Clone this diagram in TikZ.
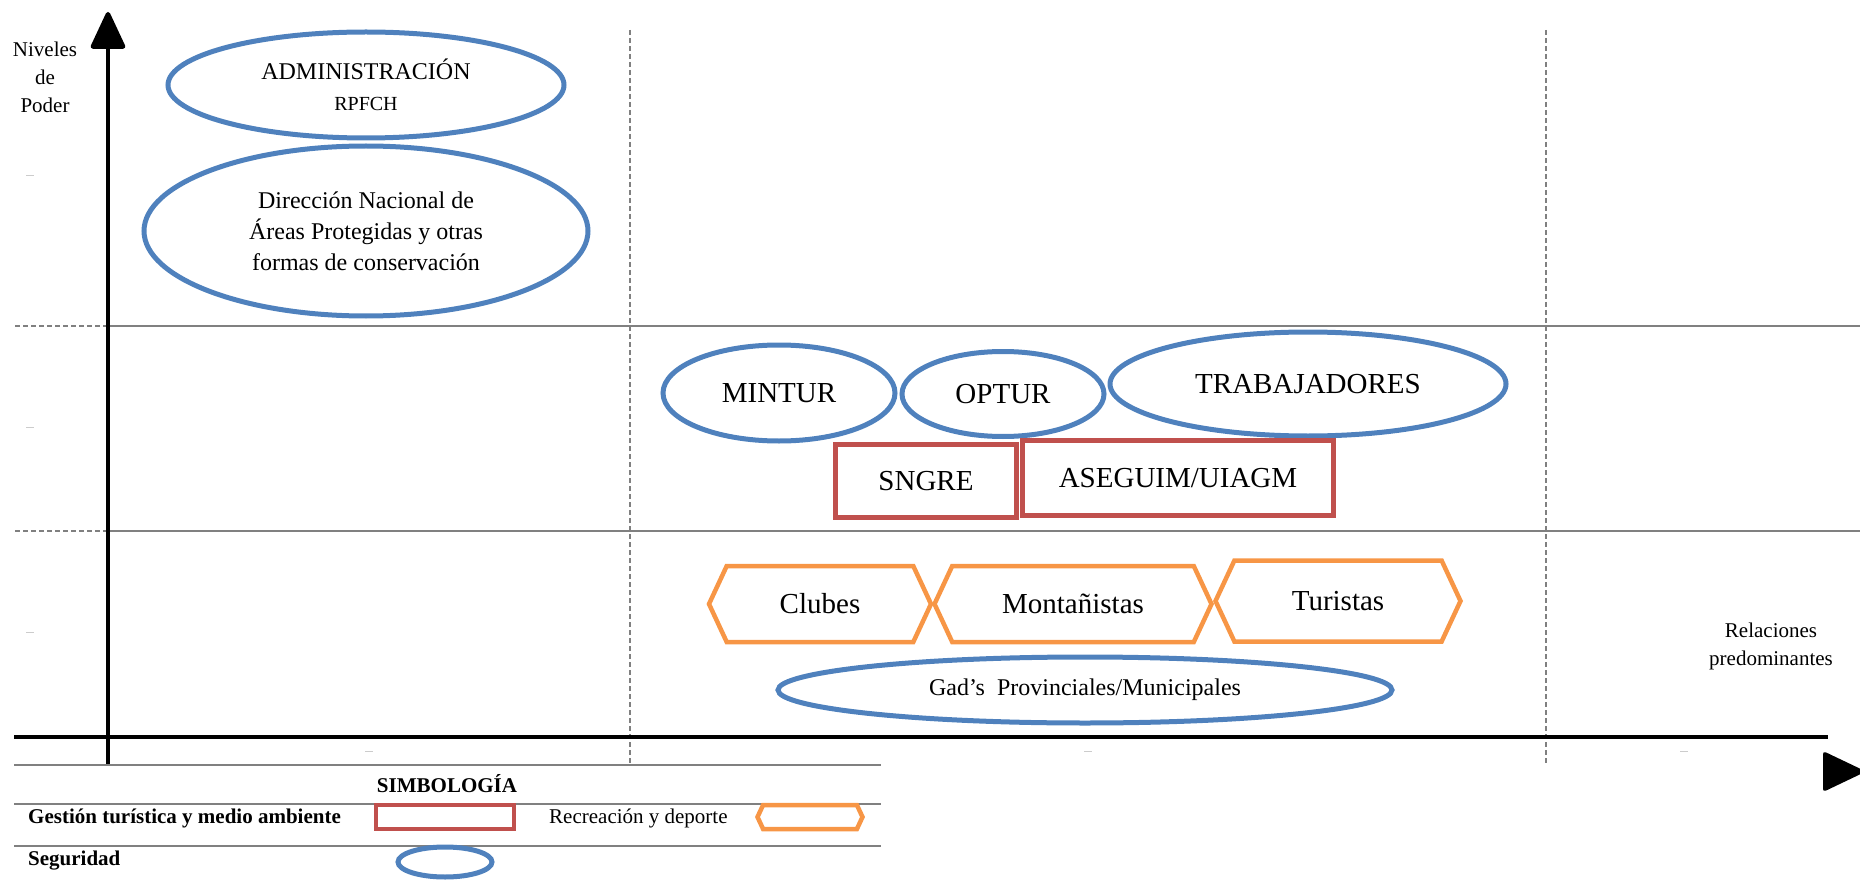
\documentclass[tikz,border=0pt]{standalone}
\usepackage{fontspec}
\setmainfont{Liberation Serif}
\usetikzlibrary{arrows.meta}
\usetikzlibrary{shapes.geometric}
\usetikzlibrary{shapes.symbols}
\definecolor{segblue}{RGB}{79,129,189}
\definecolor{gestred}{RGB}{192,80,77}
\definecolor{recorange}{RGB}{247,150,70}
\definecolor{gridgray}{RGB}{128,128,128}

\tikzset{
  seg/.style={ellipse, draw=segblue, line width=5pt, inner sep=0pt, align=center},
  gest/.style={rectangle, draw=gestred, line width=4.5pt, inner sep=0pt},
  recr/.style={signal, signal to=west and east, signal pointer angle=130,
    draw=recorange, line width=4.5pt, inner sep=0pt},
  big/.style={font=\fontsize{29}{34}\selectfont},
  mid/.style={font=\fontsize{24}{31}\selectfont},
  small/.style={font=\fontsize{21}{28}\selectfont},
  level/.style={draw=gridgray, line width=1.8pt},
  zone/.style={draw=gridgray, line width=1.5pt, dash pattern=on 5pt off 3pt},
  tickmark/.style={fill=gray!40, minimum width=8pt, minimum height=1pt, inner sep=0pt},
}

\begin{document}
\begin{tikzpicture}[x=1pt,y=-1pt]

  \useasboundingbox (0,0) rectangle (1860,893);

  \draw[zone] (15,326) -- (108,326);
  \draw[level] (108,326) -- (1860,326);
  \draw[zone] (15,531) -- (108,531);
  \draw[level] (108,531) -- (1860,531);
  \draw[zone] (630,30) -- (630,765);
  \draw[zone] (1546,30) -- (1546,765);

  \draw[line width=4.5pt, -{Triangle[length=40pt,width=36pt,round]}] (108,765) -- (108,12);
  \draw[line width=4.5pt] (14,737) -- (1828,737);
  \fill[rounded corners=3pt] (1823,751) -- (1823,792) -- (1866,771.5) -- cycle;

  \node[small, align=center] (niveles) at (45,77) {Niveles\\de\\Poder};
  \node[small, align=center] (relaciones) at (1771,646) {Relaciones\\predominantes};

  \node[tickmark] (t1) at (30,176) {};
  \node[tickmark] (t2) at (30,427) {};
  \node[tickmark] (t3) at (30,632) {};
  \node[tickmark] (t4) at (369,751) {};
  \node[tickmark] (t5) at (1088,751) {};
  \node[tickmark] (t6) at (1684,751) {};

  \node[seg, mid, minimum width=396pt, minimum height=106pt] (admin) at (366,85)
    {ADMINISTRACIÓN\\{\fontsize{20}{24}\selectfont RPFCH}};
  \node[seg, mid, minimum width=444pt, minimum height=170pt] (direccion) at (366,231)
    {Dirección Nacional de\\Áreas Protegidas y otras\\formas de conservación};

  \node[seg, big, minimum width=232pt, minimum height=96pt] (mintur) at (779,393) {MINTUR};
  \node[seg, big, minimum width=202pt, minimum height=85pt] (optur) at (1003,394) {OPTUR};
  \node[seg, big, minimum width=396pt, minimum height=104pt] (trabajadores) at (1308,384) {TRABAJADORES};

  \node[gest, big, minimum width=181pt, minimum height=73pt] (sngre) at (926,481) {SNGRE};
  \node[gest, big, minimum width=311pt, minimum height=75pt] (aseguim) at (1178,478) {ASEGUIM/UIAGM};

  \node[recr, big, minimum width=222pt, minimum height=76pt] (clubes) at (820,604) {Clubes};
  \node[recr, big, minimum width=277pt, minimum height=76pt] (montanistas) at (1073,604) {Montañistas};
  \node[recr, big, minimum width=245pt, minimum height=81pt] (turistas) at (1338,601) {Turistas};

  \node[seg, mid, minimum width=614pt, minimum height=66pt] (gads) at (1085,690)
    {Gad’s\ \ Provinciales/Municipales};

  \draw[level] (14,765) -- (881,765);
  \draw[level] (14,804) -- (881,804);
  \draw[level] (14,846) -- (881,846);

  \node[small, font=\fontsize{21}{28}\selectfont\bfseries] (simbologia) at (447,784) {SIMBOLOGÍA};
  \node[small, font=\fontsize{21}{28}\selectfont\bfseries, anchor=west, inner sep=0pt] (gestion) at (28,818)
    {Gestión turística y medio ambiente};
  \node[gest, minimum width=138pt, minimum height=24pt] (gestkey) at (445,817) {};
  \node[small, anchor=west, inner sep=0pt] (recreacion) at (549,818) {Recreación y deporte};
  \node[recr, minimum width=105pt, minimum height=24pt] (recrkey) at (810,817) {};
  \node[small, font=\fontsize{21}{28}\selectfont\bfseries, anchor=west, inner sep=0pt] (seguridad) at (28,861)
    {Seguridad};
  \node[seg, minimum width=94pt, minimum height=30pt] (segkey) at (445,862) {};

\end{tikzpicture}
\end{document}
